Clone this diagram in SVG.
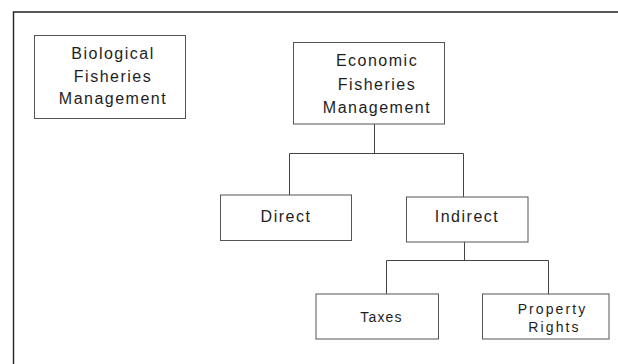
<svg xmlns="http://www.w3.org/2000/svg" width="618" height="364" viewBox="0 0 618 364">
  <style>
    .box { fill: #ffffff; stroke: #555555; stroke-width: 1; }
    .lbl { font-family: "Liberation Sans", Arial, sans-serif; font-size: 16px; letter-spacing: 1.5px; fill: #1e1e1e; text-anchor: middle; }
    .sm { font-size: 14px; letter-spacing: 1.2px; }
    .wide { letter-spacing: 2.1px; }
    .wire { fill: none; stroke: #444444; stroke-width: 1; }
  </style>
  <rect x="0" y="0" width="618" height="364" fill="#ffffff"/>

  <!-- page frame (top and left rules) -->
  <g id="frame">
    <path d="M13.5,364 L13.5,12 L618,12" fill="none" stroke="#222222" stroke-width="1.4"/>
  </g>

  <!-- tree connectors -->
  <g id="connectors" class="wire">
    <path d="M374.5,124 L374.5,153.5"/>
    <path d="M289.5,153.5 L463.5,153.5"/>
    <path d="M289.5,153.5 L289.5,195"/>
    <path d="M463.5,153.5 L463.5,197"/>
    <path d="M464.5,242 L464.5,260.5"/>
    <path d="M386.5,260.5 L548.5,260.5"/>
    <path d="M386.5,260.5 L386.5,294"/>
    <path d="M548.5,260.5 L548.5,294"/>
  </g>

  <g id="biological">
    <rect class="box" x="34.5" y="35.5" width="151" height="83"/>
    <text class="lbl" x="113" y="59">Biological</text>
    <text class="lbl" x="113" y="81.7">Fisheries</text>
    <text class="lbl" x="113" y="104.3">Management</text>
  </g>

  <g id="economic">
    <rect class="box" x="293.5" y="42.5" width="151" height="81.5"/>
    <text class="lbl" x="377" y="66.3">Economic</text>
    <text class="lbl" x="377" y="89.7">Fisheries</text>
    <text class="lbl" x="377" y="113">Management</text>
  </g>

  <g id="direct">
    <rect class="box" x="220.5" y="195" width="131" height="45.5"/>
    <text class="lbl" x="286" y="221.7">Direct</text>
  </g>

  <g id="indirect">
    <rect class="box" x="406.5" y="197" width="121.5" height="45"/>
    <text class="lbl" x="467" y="221.7">Indirect</text>
  </g>

  <g id="taxes">
    <rect class="box" x="316" y="294" width="122.5" height="45"/>
    <text class="lbl sm" x="381.5" y="322">Taxes</text>
  </g>

  <g id="property-rights">
    <rect class="box" x="482.5" y="294" width="126.5" height="45"/>
    <text class="lbl sm wide" x="552.5" y="313.7">Property</text>
    <text class="lbl sm wide" x="554.5" y="332">Rights</text>
  </g>
</svg>
